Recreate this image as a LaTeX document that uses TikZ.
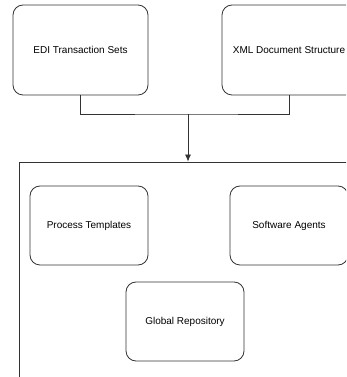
\documentclass[tikz,border=0pt]{standalone}
\usepackage{fontspec}
\setmainfont{Liberation Sans}
\usetikzlibrary{arrows.meta}
\begin{document}
\begin{tikzpicture}[x=1pt,y=1pt,
    box/.style={draw=black!80,rounded corners=10pt,line width=0.8pt,inner sep=0pt,
      font=\fontsize{10}{12}\selectfont},
    link/.style={draw=black!80,line width=0.8pt}]
  \useasboundingbox (0,0) rectangle (346,377);
  \clip (0,0) rectangle (346,377);

  \node[box,minimum width=135pt,minimum height=90pt] (edi) at (80.5,327) {EDI Transaction Sets};
  \node[box,minimum width=134pt,minimum height=90pt] (xml) at (289,327) {XML Document Structure};

  \node[draw=black!80,line width=0.8pt,minimum width=338pt,minimum height=225pt,inner sep=0pt] (frame) at (188,102.5) {};

  \node[box,minimum width=118pt,minimum height=79pt] (proc) at (89,151.5) {Process Templates};
  \node[box,minimum width=118pt,minimum height=79pt] (agent) at (289,151.5) {Software Agents};
  \node[box,minimum width=118pt,minimum height=79pt] (repo) at (185,55.5) {Global Repository};

  \coordinate (join) at (188,263);
  \draw[link] (edi.south) |- (join) -| (xml.south);
  \draw[link,-{Latex[length=7pt,width=6pt]}] (join) -- (frame.north);
\end{tikzpicture}
\end{document}
